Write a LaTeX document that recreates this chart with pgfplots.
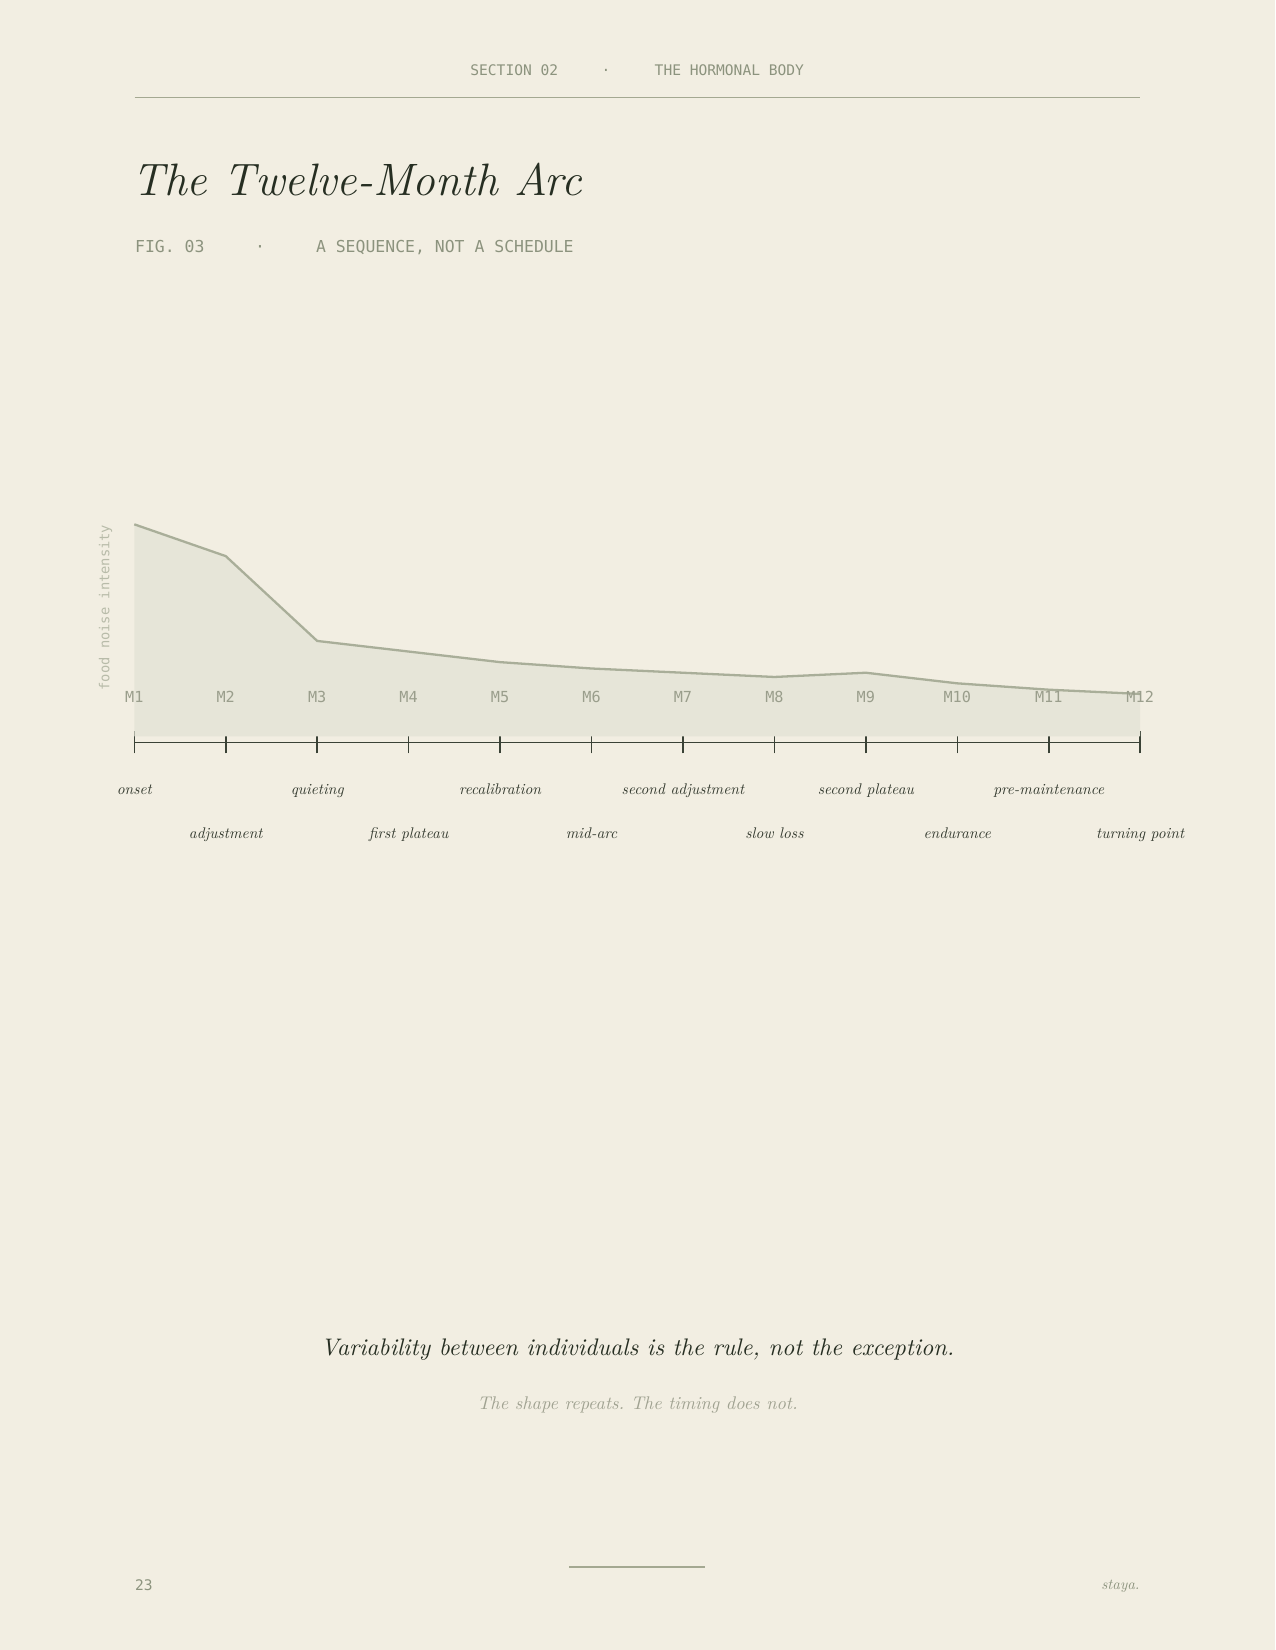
\documentclass[border=0pt]{standalone}
\usepackage{pgfplots}
\pgfplotsset{compat=1.18}
\usepackage{fontspec}
\newfontfamily\mono{DejaVu Sans Mono}
% fixed optical size italic, so small labels are not set in the wide 7pt design
\newfontfamily\lmit{lmroman10-italic.otf}
\frenchspacing

\definecolor{paper}{HTML}{F2EEE2}
\definecolor{areafill}{HTML}{E6E5D8}
\definecolor{linecol}{HTML}{A9AE99}
\definecolor{axisdark}{HTML}{3A4236}
\definecolor{monotext}{HTML}{8C937E}
\definecolor{mlab}{HTML}{9A9E8C}
\definecolor{ylab}{HTML}{B8BBA9}
\definecolor{rulecol}{HTML}{A4A891}
\definecolor{inkdark}{HTML}{262E22}
\definecolor{phase}{HTML}{343A2F}
\definecolor{quietgrey}{HTML}{A0A291}

\begin{document}
% 1 unit = 1 px of the 1275x1650 page, y runs downwards
\begin{tikzpicture}[x=0.48bp,y=-0.48bp]
\fill[paper] (0,0) rectangle (1275,1650);

% header
\node[anchor=base east, inner sep=0, text=monotext, font=\mono\fontsize{7bp}{8bp}\selectfont] at (558.6,75.7) {SECTION 02};
\node[anchor=base, inner sep=0, text=monotext, font=\mono\fontsize{7bp}{8bp}\selectfont] at (606,75.7) {·};
\node[anchor=base west, inner sep=0, text=monotext, font=\mono\fontsize{7bp}{8bp}\selectfont] at (654.3,75.7) {THE HORMONAL BODY};
\draw[rulecol, line width=0.6bp] (134.7,97.3) -- (1140,97.3);

% title block
\node[anchor=base west, inner sep=0, text=inkdark, font=\fontsize{21.8bp}{26bp}\selectfont\itshape] at (132,195) {The Twelve-Month Arc};
\node[anchor=base west, inner sep=0, text=monotext, font=\mono\fontsize{7.9bp}{9bp}\selectfont] at (134.7,252.3) {FIG. 03};
\node[anchor=base, inner sep=0, text=monotext, font=\mono\fontsize{7.9bp}{9bp}\selectfont] at (260,252.3) {·};
\node[anchor=base west, inner sep=0, text=monotext, font=\mono\fontsize{7.9bp}{9bp}\selectfont] at (315.6,252.3) {A SEQUENCE, NOT A SCHEDULE};

% y label
\node[rotate=90, inner sep=0, text=ylab, font=\mono\fontsize{6.6bp}{7bp}\selectfont] at (105.5,607.5) {food noise intensity};

\begin{axis}[
    at={(64.464bp,-356.304bp)}, anchor=south west,
    scale only axis, width=482.8bp, height=104.64bp,
    xmin=1, xmax=12, ymin=-2.83, ymax=100,
    clip=false,
    axis x line=bottom, axis y line=none,
    x axis line style={-, draw=axisdark, line width=0.75bp},
    xtick={1,...,12}, xticklabels={}, ytick=\empty,
    major tick length=10.56bp, xtick align=center,
    tick style={draw=axisdark, line width=0.75bp},
]
    % food noise intensity by month
    \addplot[draw=none, fill=areafill] coordinates {
        (1,100) (2,85) (3,45) (4,40) (5,35) (6,32)
        (7,30) (8,28) (9,30) (10,25) (11,22) (12,20)
    } \closedcycle;
    \addplot[draw=linecol, line width=1.1bp] coordinates {
        (1,100) (2,85) (3,45) (4,40) (5,35) (6,32)
        (7,30) (8,28) (9,30) (10,25) (11,22) (12,20)
    };

    \pgfplotsinvokeforeach{1,...,12}{
        \node[anchor=base, inner sep=0, text=mlab, font=\mono\fontsize{7.3bp}{8bp}\selectfont] at (axis cs:#1,16) {M#1};
    }

    % phase names, alternating rows
    \tikzset{phasel/.style={anchor=base, inner sep=0, text=phase, font=\lmit\fontsize{7.4bp}{9bp}\selectfont}}
    \node[phasel] at (axis cs:1,-27.6) {onset};
    \node[phasel] at (axis cs:2,-48.3) {adjustment};
    \node[phasel] at (axis cs:3,-27.6) {quieting};
    \node[phasel] at (axis cs:4,-48.3) {first plateau};
    \node[phasel] at (axis cs:5,-27.6) {recalibration};
    \node[phasel] at (axis cs:6,-48.3) {mid-arc};
    \node[phasel] at (axis cs:7,-27.6) {second adjustment};
    \node[phasel] at (axis cs:8,-48.3) {slow loss};
    \node[phasel] at (axis cs:9,-27.6) {second plateau};
    \node[phasel] at (axis cs:10,-48.3) {endurance};
    \node[phasel] at (axis cs:11,-27.6) {pre-maintenance};
    \node[phasel] at (axis cs:12,-48.3) {turning point};
\end{axis}

% closing lines
\node[anchor=base, inner sep=0, text=inkdark, font=\lmit\fontsize{11.5bp}{14bp}\selectfont] at (637.5,1355.7) {Variability between individuals is the rule, not the exception.};
\node[anchor=base, inner sep=0, text=quietgrey, font=\lmit\fontsize{8.8bp}{11bp}\selectfont] at (637.5,1409) {The shape repeats. The timing does not.};

% footer
\draw[rulecol, line width=0.5bp] (569,1567) -- (705,1567);
\node[anchor=base west, inner sep=0, text=monotext, font=\mono\fontsize{7bp}{8bp}\selectfont] at (134.7,1590) {23};
\node[anchor=base east, inner sep=0, text=monotext, font=\lmit\fontsize{7.2bp}{8bp}\selectfont] at (1140,1589) {staya.};
\end{tikzpicture}
\end{document}
